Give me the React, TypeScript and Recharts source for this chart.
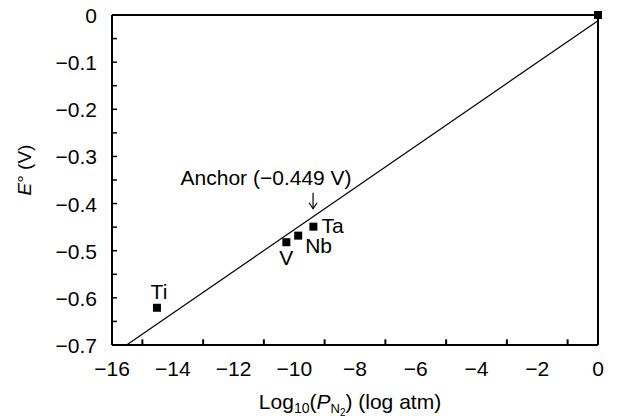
import React from 'react';
import { ScatterChart, Scatter, XAxis, YAxis, ReferenceLine, ReferenceDot } from 'recharts';

const FONT = '"Liberation Sans", Arial, Helvetica, sans-serif';

// metals: log10(P_N2) vs E°
const METAL_NAMES = ['Ti', 'V', 'Nb', 'Ta', ''];
const METAL_LOGP = [-14.52, -10.26, -9.87, -9.37, 0];
const METAL_E = [-0.621, -0.482, -0.468, -0.449, 0];

// fitted straight line end points
const FIT_LOGP = [-15.52, 0];
const FIT_E = [-0.7, -0.012];

const X_TICKS = [-16, -15, -14, -13, -12, -11, -10, -9, -8, -7, -6, -5, -4, -3, -2, -1, 0];
const Y_TICKS = [-0.7, -0.65, -0.6, -0.55, -0.5, -0.45, -0.4, -0.35, -0.3, -0.25, -0.2, -0.15, -0.1, -0.05, 0];

const metals = METAL_NAMES.map((name, i) => ({ name, x: METAL_LOGP[i], y: METAL_E[i] }));
const fit = FIT_LOGP.map((x, i) => ({ x, y: FIT_E[i] }));
const xMajor = X_TICKS.filter((v) => v % 2 === 0);
const xMinor = X_TICKS.filter((v) => v % 2 !== 0);
const MINOR_LEN = 0.012; // tick length in volts, ~5-6px

const fmt = (v: number) => (v === 0 ? '0' : '\u2212' + Math.abs(v).toFixed(1));

// where each label sits relative to its marker
const LABEL_POS: Record<string, { dx: number; dy: number; anchor: string }> = {
  Ti: { dx: 2, dy: -9, anchor: 'middle' },
  V: { dx: 0, dy: 23, anchor: 'middle' },
  Nb: { dx: 7, dy: 17, anchor: 'start' },
  Ta: { dx: 8, dy: 6, anchor: 'start' },
};

const XTick = (props: any) => {
  const { x, y, payload } = props;
  const v = payload.value;
  return (
    <text x={x} y={y + 21} textAnchor="middle" fontSize={21} fontFamily={FONT} fill="#000">
      {v === 0 ? '0' : '\u2212' + Math.abs(v)}
    </text>
  );
};

const YTick = (props: any) => {
  const { x, y, payload } = props;
  const v = payload.value;
  const major = Math.abs(Math.round(v * 10) - v * 10) < 1e-6;
  if (!major) return <g />;
  return (
    <text x={x} y={y + 8} textAnchor="end" fontSize={21} fontFamily={FONT} fill="#000">
      {fmt(v)}
    </text>
  );
};

const MetalShape = (props: any) => {
  const { cx, cy, payload } = props;
  const pos = LABEL_POS[payload.name];
  return (
    <g>
      <rect x={cx - 4} y={cy - 4} width={8} height={8} fill="#000" />
      {pos && (
        <text x={cx + pos.dx} y={cy + pos.dy} textAnchor={pos.anchor} fontSize={21} fontFamily={FONT} fill="#000">
          {payload.name}
        </text>
      )}
    </g>
  );
};

const AnchorLabel = (props: any) => {
  const { viewBox } = props;
  const tx = viewBox.cx ?? viewBox.x;
  const ty = viewBox.cy ?? viewBox.y;
  return (
    <g>
      <text x={tx - 47} y={ty - 24} textAnchor="middle" fontSize={21} fontFamily={FONT} fill="#000">
        Anchor ({'\u2212'}0.449 V)
      </text>
      <line x1={tx} x2={tx} y1={ty - 16} y2={ty} stroke="#000" strokeWidth={1.2} />
      <polyline points={`${tx - 4},${ty - 6} ${tx},${ty} ${tx + 4},${ty - 6}`} fill="none" stroke="#000" strokeWidth={1.2} />
    </g>
  );
};

const XLabel = (props: any) => {
  const { viewBox } = props;
  const cx = viewBox.x + viewBox.width / 2 - 5;
  return (
    <text x={cx} y={409} textAnchor="middle" fontSize={21} fontFamily={FONT} fill="#000">
      Log
      <tspan fontSize={14} dy={4}>10</tspan>
      <tspan dy={-4}>(</tspan>
      <tspan fontStyle="italic">P</tspan>
      <tspan fontSize={13} dy={4}>N</tspan>
      <tspan fontSize={10} dy={3}>2</tspan>
      <tspan dy={-7}>) (log atm)</tspan>
    </text>
  );
};

const YLabel = () => (
  <text x={31} y={170} transform="rotate(-90 31 170)" textAnchor="middle" fontSize={19} fontFamily={FONT} fill="#000">
    <tspan fontStyle="italic">E</tspan>° (V)
  </text>
);

export default function App() {
  return (
    <div style={{ position: 'absolute', left: 0, top: 0, background: '#fff' }}>
      <ScatterChart width={620} height={419} margin={{ top: 15, right: 22, left: 0, bottom: 0 }}>
        {/* minor ticks only, drawn upward into the plot */}
        <XAxis
          xAxisId="minor"
          type="number"
          domain={[-16, 0]}
          ticks={xMinor}
          interval={0}
          height={1}
          mirror
          tickSize={6}
          tickLine={{ stroke: '#000', strokeWidth: 2 }}
          axisLine={false}
          tick={() => <g />}
        />
        <XAxis
          type="number"
          dataKey="x"
          domain={[-16, 0]}
          ticks={xMajor}
          interval={0}
          height={74}
          tickSize={0}
          tickMargin={10}
          tickLine={false}
          axisLine={{ stroke: '#000', strokeWidth: 2 }}
          tick={<XTick />}
          label={<XLabel />}
        />
        <YAxis
          type="number"
          dataKey="y"
          domain={[-0.7, 0]}
          ticks={Y_TICKS}
          interval={0}
          width={112}
          tickSize={-5}
          tickMargin={20}
          tickLine={{ stroke: '#000', strokeWidth: 1.5 }}
          axisLine={{ stroke: '#000', strokeWidth: 2 }}
          tick={<YTick />}
          label={<YLabel />}
        />
        <ReferenceLine y={0} stroke="#000" strokeWidth={2} />
        <ReferenceLine x={0} stroke="#000" strokeWidth={2} />
        {xMinor.map((v) => (
          <ReferenceLine
            key={v}
            segment={[{ x: v, y: -0.7 }, { x: v, y: -0.7 + MINOR_LEN }]}
            stroke="#000"
            strokeWidth={2}
            ifOverflow="visible"
          />
        ))}
        <Scatter
          data={fit}
          line={{ stroke: '#000', strokeWidth: 1.2 }}
          shape={() => <g />}
          isAnimationActive={false}
        />
        <Scatter data={metals} shape={<MetalShape />} isAnimationActive={false} />
        <ReferenceDot x={-9.38} y={-0.411} r={0} stroke="none" fill="none" label={<AnchorLabel />} />
      </ScatterChart>
    </div>
  );
}
